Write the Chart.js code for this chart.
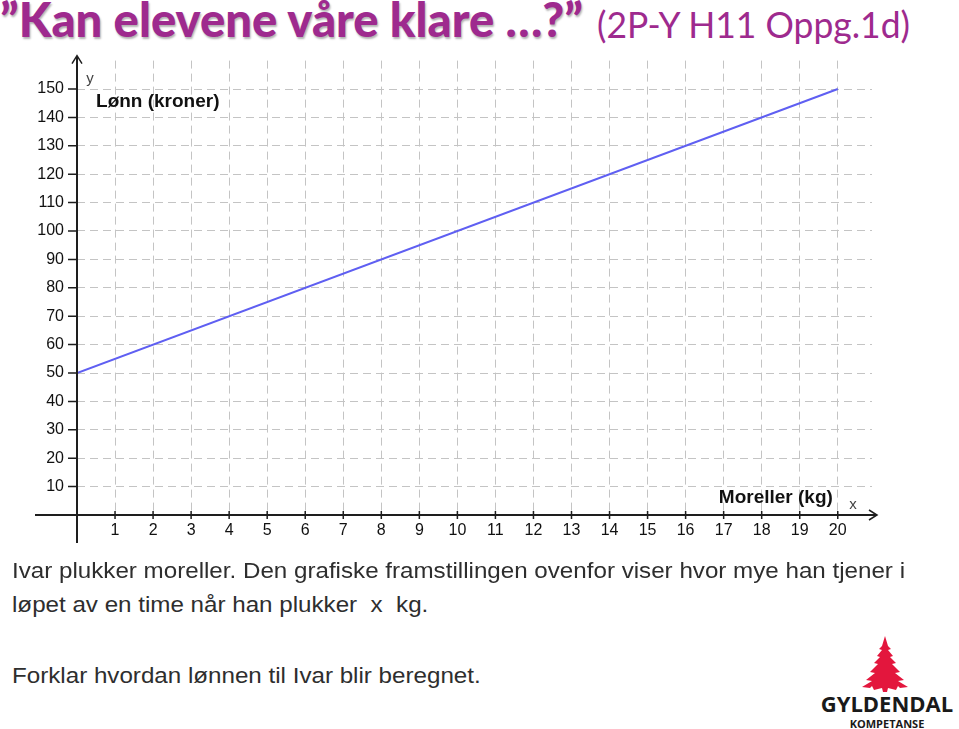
<!DOCTYPE html>
<html>
<head>
<meta charset="utf-8">
<script src="https://cdn.jsdelivr.net/npm/chart.js@4.4.1/dist/chart.umd.min.js"></script>
<style>
  html, body { margin: 0; padding: 0; background: #fff; }
  body { width: 959px; height: 729px; position: relative; overflow: hidden; }
  .fit { position: absolute; white-space: nowrap; transform-origin: left top; }
  .head { left: 0; top: -9px; color: #9e2a8e; font-family: Lato, sans-serif; font-weight: 900; font-size: 47px;
          text-shadow: 1px 2px 2px rgba(0,0,0,0.3); }
  .sub { left: 597px; top: 2px; color: #9e2a8e; font-family: Lato, sans-serif; font-size: 36px; }
  #chartWrap { position: absolute; left: 0; top: 38px; }
  .task { left: 12px; color: #2e2e2e; font-family: "Liberation Sans", Arial, sans-serif; font-size: 22px; }
  .logo { position: absolute; left: 812px; top: 632px; width: 147px; height: 97px; }
</style>
</head>
<body>
<div class="fit head" data-w="583">”Kan elevene våre klare …?”</div>
<div class="fit sub" data-w="313">(2P-Y H11 Oppg.1d)</div>
<div id="chartWrap"><canvas id="graph" width="959" height="522"></canvas></div>
<div class="fit task" id="line1" style="top:558px" data-w="893">Ivar plukker moreller. Den grafiske framstillingen ovenfor viser hvor mye han tjener i</div>
<div class="fit task" style="top:592px">løpet av en time når han plukker&nbsp; x &nbsp;kg.</div>
<div class="fit task" style="top:663px">Forklar hvordan lønnen til Ivar blir beregnet.</div>
<svg class="logo" viewBox="0 0 147 97">
  <polygon fill="#e3163d" points="73,4 76,14 79,17 76,18 81,24 78,25 84,31 80,32 88,40 83,41 92,48 86,49 96,55 88,56 86,54 84,58 76,56 75,60 71,60 70,56 62,58 60,54 58,56 50,55 60,49 54,48 63,41 58,40 66,32 62,31 68,25 65,24 70,18 67,17 70,14"/>
  <text x="75" y="80" text-anchor="middle" font-family="'Open Sans', 'Liberation Sans', sans-serif" font-weight="700" font-size="22" fill="#1a1a1a">GYLDENDAL</text>
  <text x="75" y="96" text-anchor="middle" font-family="'Open Sans', 'Liberation Sans', sans-serif" font-weight="700" font-size="11" fill="#1a1a1a">KOMPETANSE</text>
</svg>

<script>
// values: wage (kroner) against cherries picked (kg)
const kg = [0, 20];
const lonn = [50, 150];

const xTickLabels = [1, 2, 3, 4, 5, 6, 7, 8, 9, 10, 11, 12, 13, 14, 15, 16, 17, 18, 19, 20];
const yTickLabels = [10, 20, 30, 40, 50, 60, 70, 80, 90, 100, 110, 120, 130, 140, 150];

const gridColor = '#c4c4c4';
const axisColor = '#1e1e1e';
const tickFont = { family: '"Liberation Sans", Arial, sans-serif', size: 16 };

// squeeze the slide texts to the widths they have on the slide
const taskScale = (() => {
  const el = document.getElementById('line1');
  return el.dataset.w / el.getBoundingClientRect().width;
})();
document.querySelectorAll('.fit').forEach(el => {
  const s = el.dataset.w ? el.dataset.w / el.getBoundingClientRect().width : taskScale;
  el.style.transform = `scaleX(${s})`;
});

// axes through origin with arrows, tick marks and axis captions (GeoGebra look)
const axesPlugin = {
  id: 'axes',
  afterDraw(chart) {
    const { ctx, chartArea: a, scales: { x, y } } = chart;
    const x0 = x.getPixelForValue(0);
    const y0 = y.getPixelForValue(0);
    ctx.save();
    ctx.strokeStyle = axisColor;
    ctx.lineWidth = 2;
    ctx.beginPath();
    ctx.moveTo(x0, y0 + 28);
    ctx.lineTo(x0, a.top - 4);
    ctx.moveTo(x0 - 42, y0);
    ctx.lineTo(a.right + 4, y0);
    ctx.stroke();
    // arrow heads
    ctx.lineWidth = 1.5;
    ctx.beginPath();
    ctx.moveTo(x0 - 5, a.top + 3);
    ctx.lineTo(x0, a.top - 5);
    ctx.lineTo(x0 + 5, a.top + 3);
    ctx.moveTo(a.right - 3, y0 - 5);
    ctx.lineTo(a.right + 5, y0);
    ctx.lineTo(a.right - 3, y0 + 5);
    ctx.stroke();
    // tick marks
    ctx.beginPath();
    xTickLabels.forEach(v => {
      const px = x.getPixelForValue(v);
      ctx.moveTo(px, y0 - 4);
      ctx.lineTo(px, y0 + 4);
    });
    yTickLabels.forEach(v => {
      const py = y.getPixelForValue(v);
      ctx.moveTo(x0 - 9, py);
      ctx.lineTo(x0, py);
    });
    ctx.stroke();
    // captions
    ctx.fillStyle = '#111';
    ctx.textBaseline = 'middle';
    ctx.font = 'bold 19px "Liberation Sans", Arial, sans-serif';
    ctx.textAlign = 'left';
    ctx.fillText('Lønn (kroner)', x.getPixelForValue(0.5), y.getPixelForValue(145.4));
    ctx.textAlign = 'right';
    ctx.fillText('Moreller (kg)', x.getPixelForValue(19.87), y.getPixelForValue(6));
    ctx.fillStyle = '#444';
    ctx.font = '15px "Liberation Sans", Arial, sans-serif';
    ctx.textAlign = 'center';
    ctx.fillText('y', x.getPixelForValue(0.34), y.getPixelForValue(153.5));
    ctx.fillText('x', x.getPixelForValue(20.4), y.getPixelForValue(3.6));
    ctx.restore();
  }
};

new Chart(document.getElementById('graph'), {
  type: 'scatter',
  data: {
    datasets: [{
      data: kg.map((v, i) => ({ x: v, y: lonn[i] })),
      showLine: true,
      borderColor: '#5f5ff2',
      borderWidth: 2,
      pointRadius: 0
    }]
  },
  options: {
    responsive: false,
    animation: false,
    layout: { padding: { top: 10, right: 87, left: 0, bottom: 0 } },
    plugins: { legend: { display: false }, tooltip: { enabled: false } },
    scales: {
      x: {
        type: 'linear',
        min: 0,
        max: 20.9,
        afterFit: s => { s.height = 45; },
        ticks: {
          stepSize: 1,
          includeBounds: false,
          padding: 6,
          color: '#111',
          font: tickFont,
          callback: v => xTickLabels.includes(v) ? String(v) : ''
        },
        grid: { color: gridColor, lineWidth: 1, drawTicks: false },
        border: { display: false, dash: [8, 5] }
      },
      y: {
        min: 0,
        max: 160,
        afterFit: s => { s.width = 77; },
        ticks: {
          stepSize: 10,
          padding: 13,
          color: '#111',
          font: tickFont,
          callback: v => v === 160 ? null : (yTickLabels.includes(v) ? String(v) : '')
        },
        grid: { color: gridColor, lineWidth: 1, drawTicks: false },
        border: { display: false, dash: [8, 5] }
      }
    }
  },
  plugins: [axesPlugin]
});
</script>
</body>
</html>
